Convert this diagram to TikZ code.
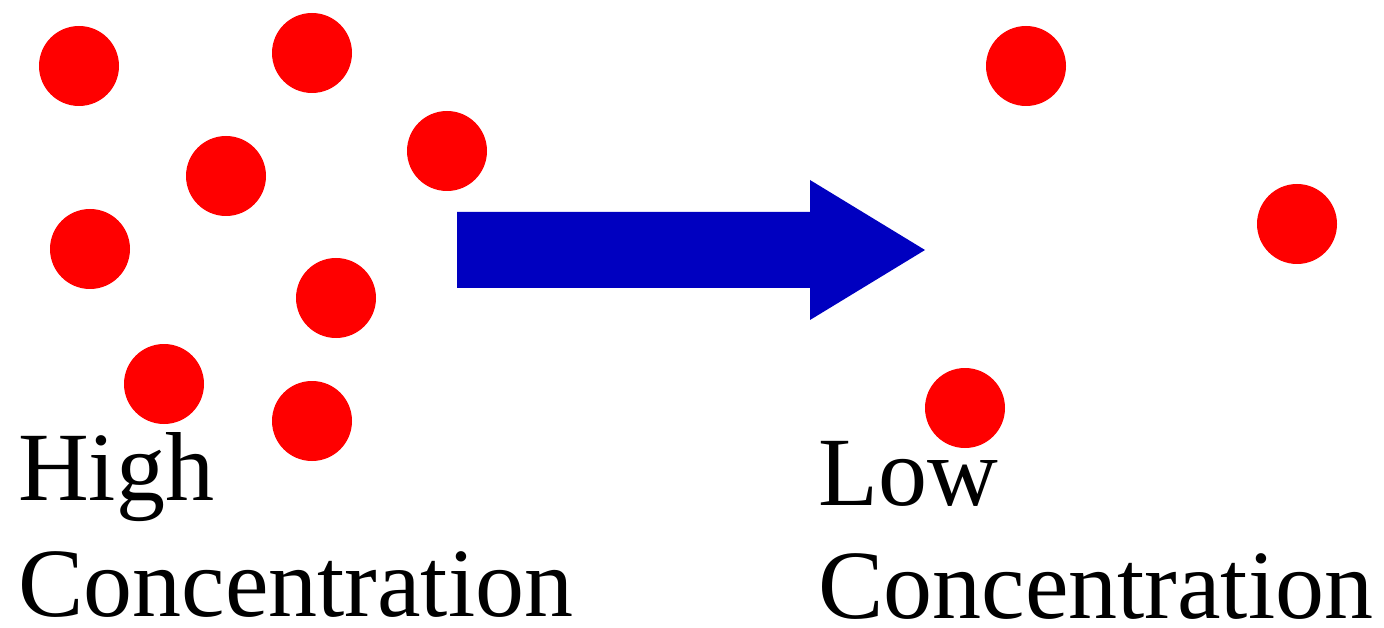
\documentclass[tikz,border=0pt]{standalone}
\usepackage{fontspec}
\setmainfont{Liberation Serif}
\usetikzlibrary{calc}
\definecolor{dotred}{RGB}{255,0,0}
\definecolor{arrowblue}{RGB}{0,0,192}
\begin{document}
\begin{tikzpicture}[x=1pt,y=-1pt]

% definitions
\tikzstyle{particle} = [circle, minimum size=80pt, inner sep=0pt, fill=dotred]
\tikzstyle{label} = [anchor=base west, inner sep=0pt, font=\fontsize{98}{115}\selectfont]

\useasboundingbox (0,0) rectangle (1384,628);

% high concentration side
\node (h1) [particle] at (79,66) {};
\node (h2) [particle] at (312,53) {};
\node (h3) [particle] at (447,151) {};
\node (h4) [particle] at (226,176) {};
\node (h5) [particle] at (90,249) {};
\node (h6) [particle] at (336,298) {};
\node (h7) [particle] at (164,384) {};
\node (h8) [particle] at (312,421) {};

% low concentration side
\node (l1) [particle] at (1026,66) {};
\node (l2) [particle] at (1297,224) {};
\node (l3) [particle] at (965,408) {};

% the arrow
\coordinate (tail) at (457,250);
\coordinate (tip) at (925,250);
\fill [arrowblue] ($(tail)+(0,-38)$) -- (810,212) -- (810,180) -- (tip)
  -- (810,320) -- (810,288) -- ($(tail)+(0,38)$) -- cycle;

% labels
\node (high) [label] at (18,500) {High};
\node (highc) [label, text depth=0pt] at (18,616) {Concentration};
\node (low) [label] at (818,505) {Low};
\node (lowc) [label, text depth=0pt] at (818,618) {Concentration};

\end{tikzpicture}
\end{document}
